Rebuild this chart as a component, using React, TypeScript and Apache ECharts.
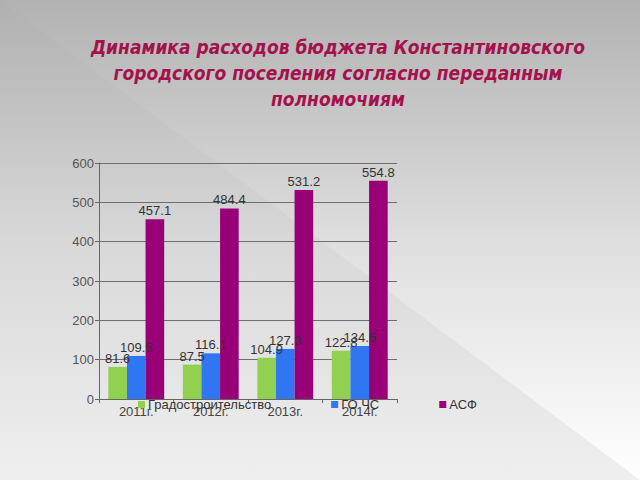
import React, { useEffect, useRef } from "react";
import * as echarts from "echarts";

const titleLines = [
  "Динамика расходов бюджета Константиновского",
  "городского поселения согласно переданным",
  "полномочиям",
];
const categories = ["2011г.", "2012г.", "2013г.", "2014г."];
const seriesNames = ["Градостроительство", "ГО ЧС", "АСФ"];
const gradostroitelstvo = [81.6, 87.5, 104.9, 122.8];
const goChs = [109.5, 116.1, 127.3, 134.5];
const asf = [457.1, 484.4, 531.2, 554.8];
const seriesColors = ["#92d050", "#2f76f2", "#990077"];

export default function App() {
  const ref = useRef<HTMLDivElement>(null);
  useEffect(() => {
    if (!ref.current) return;
    const chart = echarts.init(ref.current, undefined, { renderer: "svg" });
    const values = [gradostroitelstvo, goChs, asf];
    chart.setOption({
      animation: false,
      textStyle: { fontFamily: "Liberation Sans" },
      graphic: [
        {
          type: "rect",
          z: -10,
          silent: true,
          shape: { x: 0, y: 0, width: 640, height: 480 },
          style: {
            fill: new echarts.graphic.LinearGradient(0, 0, 0, 1, [
              { offset: 0, color: "#b2b2b2" },
              { offset: 0.5, color: "#dedede" },
              { offset: 1, color: "#ffffff" },
            ]),
          },
        },
        {
          type: "polygon",
          z: -9,
          silent: true,
          shape: { points: [[0, 0], [640, 480], [0, 480]] },
          style: {
            fill: new echarts.graphic.LinearGradient(0, 0, 0, 1, [
              { offset: 0, color: "#b0b0b0" },
              { offset: 0.5, color: "#d8d8d8" },
              { offset: 1, color: "#efefef" },
            ]),
          },
        },
        {
          type: "text",
          x: 338,
          y: 34,
          style: {
            text: titleLines.join("\n"),
            fill: "#a3124c",
            font: "italic bold 19px 'DejaVu Sans Condensed', 'DejaVu Sans'",
            align: "center",
            lineHeight: 26,
          },
        },
      ],
      legend: {
        left: 133,
        top: 393,
        itemGap: 60,
        itemWidth: 7,
        itemHeight: 7,
        icon: "rect",
        textStyle: { color: "#333", fontSize: 13, padding: [0, 0, 0, -2] },
        data: seriesNames,
      },
      grid: { left: 99, right: 243, top: 163, bottom: 81, containLabel: false },
      xAxis: {
        type: "category",
        data: categories,
        axisLine: { lineStyle: { color: "#666", width: 1 } },
        axisTick: { show: true, length: 4, lineStyle: { color: "#666" } },
        axisLabel: { color: "#444", fontSize: 13, margin: 6 },
      },
      yAxis: {
        type: "value",
        min: 0,
        max: 600,
        interval: 100,
        axisLine: { show: true, lineStyle: { color: "#666", width: 1 } },
        axisTick: { show: true, length: 4, lineStyle: { color: "#666" } },
        splitLine: { lineStyle: { color: "#6e6e6e", width: 1 } },
        axisLabel: { color: "#555", fontSize: 13, margin: 5 },
      },
      series: seriesNames.map((name, i) => ({
        name,
        type: "bar",
        data: values[i],
        barGap: "0%",
        barCategoryGap: "25%",
        itemStyle: { color: seriesColors[i] },
        label: {
          show: true,
          position: "top",
          distance: 2,
          color: "#333",
          fontSize: 13,
          formatter: (p: any) => p.value.toFixed(1),
        },
      })),
    });
    return () => chart.dispose();
  }, []);
  return <div ref={ref} style={{ width: 640, height: 480, position: "absolute", left: 0, top: 0 }} />;
}
